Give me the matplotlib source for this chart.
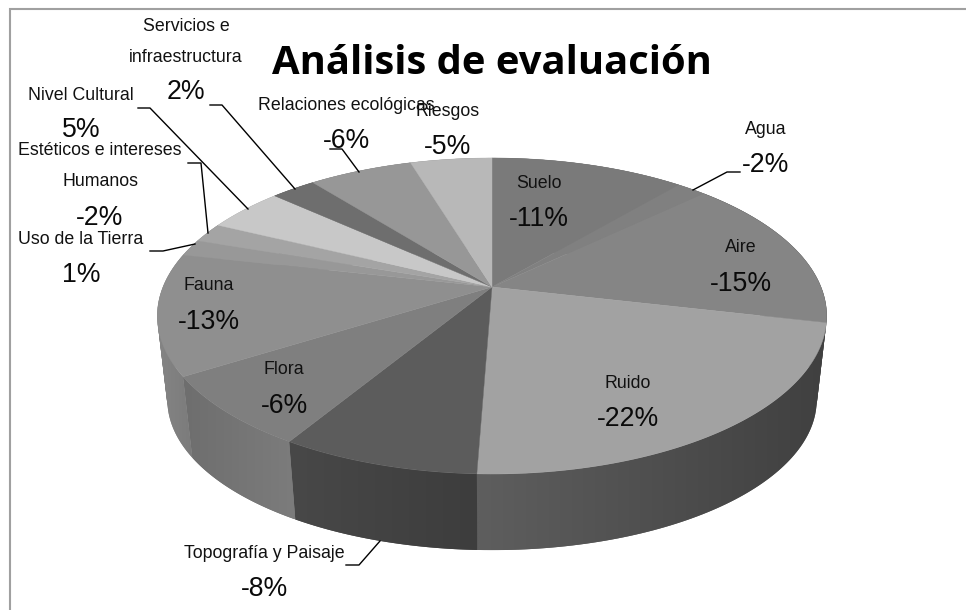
#!/usr/bin/env python3
"""Grey 3D pie of the evaluation analysis, drawn by hand on a pixel canvas."""

import matplotlib

matplotlib.use("Agg")
import matplotlib.pyplot as plt
import numpy as np
from matplotlib.patches import PathPatch, Polygon, Rectangle
from matplotlib.path import Path

NAMES = [
    "Suelo", "Agua", "Aire", "Ruido", "Topografía y Paisaje", "Flora", "Fauna",
    "Uso de la Tierra", "Estéticos e intereses\n\nHumanos", "Nivel Cultural",
    "Servicios e\n\ninfraestructura", "Relaciones ecológicas", "Riesgos",
]
PERCENT_LABELS = [
    "-11%", "-2%", "-15%", "-22%", "-8%", "-6%", "-13%",
    "1%", "-2%", "5%", "2%", "-6%", "-5%",
]
# slice sizes as measured from the rim, the printed labels are rounded
SHARES = [11.2, 1.7, 15.7, 22.0, 8.1, 7.4, 12.4, 1.7, 2.0, 4.5, 2.6, 6.0, 4.7]
TOP_GREYS = [
    "#7a7a7a", "#808080", "#858585", "#a2a2a2", "#5c5c5c", "#7f7f7f", "#8f8f8f",
    "#989898", "#a4a4a4", "#c8c8c8", "#6e6e6e", "#979797", "#b8b8b8",
]
# (left, right) grey of each slice's outer wall
SIDE_GREYS = [
    ("#6a6a6a", "#6a6a6a"), ("#6a6a6a", "#6a6a6a"), ("#404040", "#404040"),
    ("#5e5e5e", "#404040"), ("#484848", "#3d3d3d"), ("#6e6e6e", "#7c7c7c"),
    ("#858585", "#7b7b7b"), ("#8a8a8a", "#8a8a8a"), ("#8a8a8a", "#8a8a8a"),
    ("#a0a0a0", "#a0a0a0"), ("#606060", "#606060"), ("#808080", "#808080"),
    ("#909090", "#909090"),
]

# label centre (px) for name and percentage of each slice
NAME_POS = [
    (539, 184), (766, 129), (741, 248), (628, 383), (264, 553), (284, 370), (209, 286),
    (81, 239), (100, 166), (81, 96), (186, 42), (346, 106), (448, 112),
]
PERCENT_POS = [
    (539, 219), (766, 165), (741, 284), (628, 419), (264, 589), (284, 406), (209, 322),
    (81, 275), (100, 218), (81, 130), (186, 92), (346, 141), (448, 147),
]
LEADERS = [
    [(210, 105), (222, 105), (295, 189)],
    [(138, 108), (150, 108), (248, 209)],
    [(188, 163), (201, 163), (208, 233)],
    [(150, 251), (163, 251), (195, 244)],
    [(330, 149), (342, 149), (359, 172)],
    [(693, 190), (727, 172), (740, 172)],
    [(380, 541), (359, 565), (346, 565)],
]

APEX_X, APEX_Y = 492.0, 287.0
RIM_A, RIM_B, RIM_K = 329.0, 152.7, 0.1835
TOP_CENTRE_Y = 316.0
BOTTOM_CENTRE_Y = 400.0


def rim(theta):
    """Perspective position of the top rim, theta clockwise from 12 o'clock."""
    s, c = np.sin(theta), np.cos(theta)
    d = 1.0 + RIM_K * c
    return APEX_X + RIM_A * s / d, APEX_Y - RIM_B * c / d


def floor(x, y):
    """Matching point on the lower rim of the pie."""
    return APEX_X + 1 + (x - APEX_X - 1) * 0.97, BOTTOM_CENTRE_Y + (y - TOP_CENTRE_Y) * 0.95


def wall_path(xs, ys):
    """One path of same-handed quads, so the tangent part of the wall stays filled."""
    fx, fy = floor(xs, ys)
    verts, codes = [], []
    for j in range(len(xs) - 1):
        quad = [(xs[j], ys[j]), (xs[j + 1], ys[j + 1]), (fx[j + 1], fy[j + 1]), (fx[j], fy[j])]
        qx, qy = np.array(quad).T
        if np.dot(qx, np.roll(qy, -1)) - np.dot(qy, np.roll(qx, -1)) < 0:
            quad = quad[::-1]
        verts += quad + [quad[0]]
        codes += [Path.MOVETO, Path.LINETO, Path.LINETO, Path.LINETO, Path.CLOSEPOLY]
    return Path(verts, codes), min(fx.min(), xs.min()), max(fx.max(), xs.max()), ys.min(), fy.max()


def main():
    fig = plt.figure(figsize=(9.66, 6.10), dpi=100)
    ax = fig.add_axes([0, 0, 1, 1])
    ax.set_xlim(0, 966)
    ax.set_ylim(610, 0)
    ax.axis("off")

    ax.add_patch(Rectangle((10, 9), 960, 610, fc="white", ec="#a0a0a0", lw=1.5))

    edges = np.cumsum([0.0] + SHARES) / sum(SHARES) * 2 * np.pi

    # side wall first, the top face hides whatever is at the back
    for i, (start, stop) in enumerate(zip(edges[:-1], edges[1:])):
        xs, ys = rim(np.linspace(start, stop, 80))
        path, x_min, x_max, y_min, y_max = wall_path(xs, ys)
        left = np.array(matplotlib.colors.to_rgb(SIDE_GREYS[i][0]))
        right = np.array(matplotlib.colors.to_rgb(SIDE_GREYS[i][1]))
        ramp = np.linspace(0, 1, 64)[None, :, None]
        shape = PathPatch(path, fc=SIDE_GREYS[i][0], ec="none", zorder=2)
        ax.add_patch(shape)
        image = ax.imshow(
            left + (right - left) * ramp,
            extent=[x_min, x_max, y_max, y_min],
            aspect="auto",
            interpolation="bilinear",
            zorder=2.5,
        )
        image.set_clip_path(shape)

    for i, (start, stop) in enumerate(zip(edges[:-1], edges[1:])):
        xs, ys = rim(np.linspace(start, stop, 80))
        points = [(APEX_X, APEX_Y)] + list(zip(xs, ys))
        ax.add_patch(Polygon(points, fc=TOP_GREYS[i], ec=TOP_GREYS[i], lw=0.3, zorder=3))

    for line in LEADERS:
        xs, ys = zip(*line)
        ax.plot(xs, ys, color="black", lw=1.0, zorder=4)

    for name, pos in zip(NAMES, NAME_POS):
        ax.text(*pos, name, ha="center", va="center", fontsize=12.8, linespacing=0.88,
                family="Liberation Sans", color="#111111", zorder=5)
    for label, pos in zip(PERCENT_LABELS, PERCENT_POS):
        ax.text(*pos, label, ha="center", va="center", fontsize=19.2,
                family="Liberation Sans", color="#0a0a0a", zorder=5)

    ax.text(492, 64, "Análisis de evaluación", ha="center", va="center", fontsize=28.8,
            fontweight="bold", family="Open Sans", color="black", zorder=5)

    ax.set_xlim(0, 966)
    ax.set_ylim(610, 0)
    fig.savefig("out.png", dpi=100)


if __name__ == "__main__":
    main()
